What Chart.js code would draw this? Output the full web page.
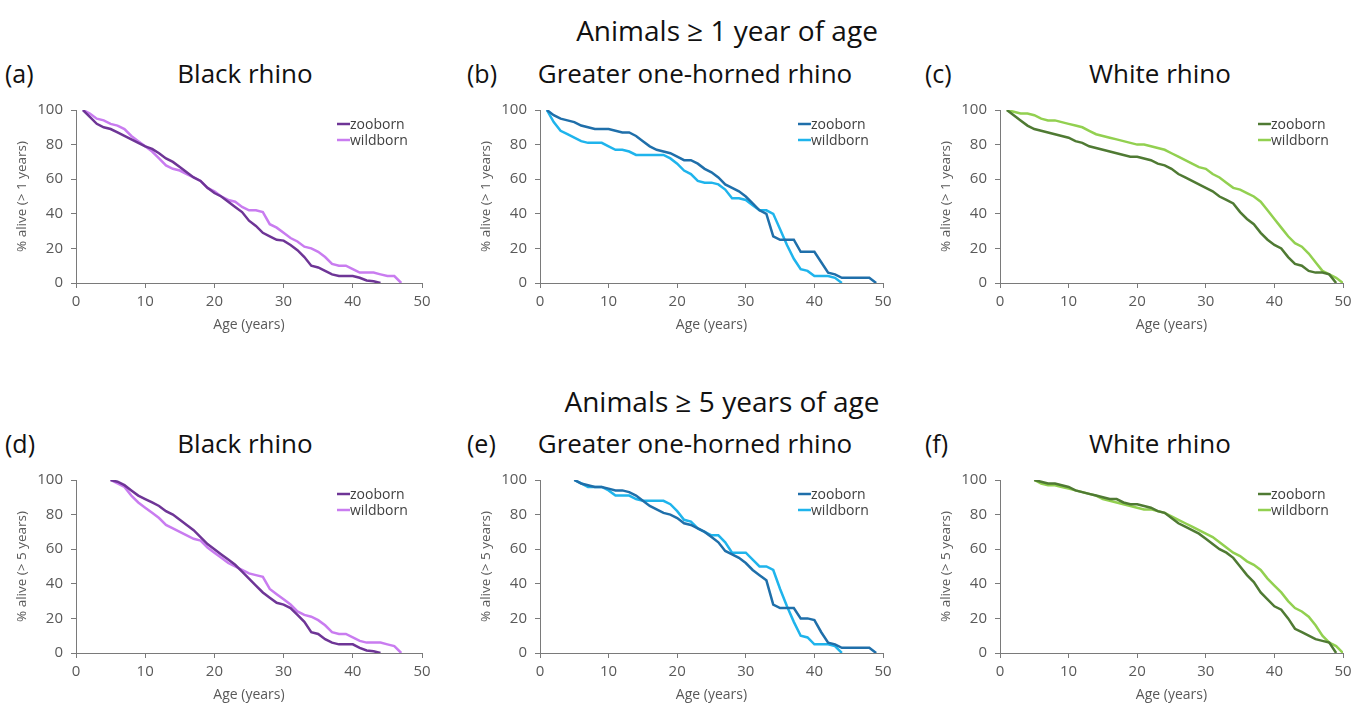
<!DOCTYPE html>
<html>
<head>
<meta charset="utf-8">
<script src="https://cdn.jsdelivr.net/npm/chart.js@4.4.1/dist/chart.umd.min.js"></script>
<style>
  body { margin: 0; background: #fff; font-family: "Open Sans", sans-serif; }
  #page { position: relative; width: 1369px; height: 706px; overflow: hidden; }
  .head { position: absolute; font-size: 28px; color: #111; white-space: nowrap; transform: translate(-50%, -50%); }
  .ptitle { position: absolute; font-size: 26px; color: #111; white-space: nowrap; transform: translate(-50%, -50%); }
  .plabel { position: absolute; font-size: 25px; color: #111; transform: translateY(-50%); }
  canvas { position: absolute; }
</style>
</head>
<body>
<div id="page">
  <div class="head" style="left:727px; top:30px;">Animals ≥ 1 year of age</div>
  <div class="head" style="left:722px; top:401px;">Animals ≥ 5 years of age</div>
</div>
<script>
// age axis (years)
const agesFrom1 = [1,2,3,4,5,6,7,8,9,10,11,12,13,14,15,16,17,18,19,20,21,22,23,24,25,26,27,28,29,30,31,32,33,34,35,36,37,38,39,40,41,42,43,44,45,46,47,48,49,50];
const agesFrom5 = [5,6,7,8,9,10,11,12,13,14,15,16,17,18,19,20,21,22,23,24,25,26,27,28,29,30,31,32,33,34,35,36,37,38,39,40,41,42,43,44,45,46,47,48,49,50];
const xTicks = [0, 10, 20, 30, 40, 50];
const yTicks = [0, 20, 40, 60, 80, 100];

// % alive, animals >= 1 year
const blackZoo1 = [100,96,92,90,89,87,85,83,81,79, 77.5,75,72,70,67,64,61,59,55,52, 50,47,44,41,36,33,29,27,25,24.5, 22,19,15,10,9,7,5,4,4,4, 3,1.5,1,0];
const blackWild1 = [100,98,95,94,92,91,89,85,82,79, 76,72,68,66,65,63,61,59,55,53, 50,48,47,44,42,42,41,34,32,29, 26,24,21,20,18,15,11,10,10,8, 6,6,6,5,4,4,0];
const gohZoo1 = [100,97,95,94,93,91,90,89,89,89, 88,87,87,85,82,79,77,76,75,73, 71,71,69,66,64,61,57,55,53,50, 46,42,40,27,25,25,25,18,18,18, 12,6,5,3,3,3,3,3,0];
const gohWild1 = [100,93,88,86,84,82,81,81,81,79, 77,77,76,74,74,74,74,74,72,69, 65,63,59,58,58,57,54,49,49,48, 45,42,42,40,31,22,14,8,7,4, 4,4,3,0];
const whiteZoo1 = [100,97,94,91,89,88,87,86,85,84, 82,81,79,78,77,76,75,74,73,73, 72,71,69,68,66,63,61,59,57,55, 53,50,48,46,41,37,34,29,25,22, 20,15,11,10,7,6,6,5,0];
const whiteWild1 = [100,99,98,98,97,95,94,94,93,92, 91,90,88,86,85,84,83,82,81,80, 80,79,78,77,75,73,71,69,67,66, 63,61,58,55,54,52,50,47,42,37, 32,27,23,21,17,12,7,5,3,0];

// % alive, animals >= 5 years
const blackZoo5 = [100,99,97,94,91,89,87,85,82,80, 77,74,71,67,63,60,57,54,51,47, 43,39,35,32,29,28,26,22,18,12, 11,8,6,5,5,5,3,1.5,1,0];
const blackWild5 = [100,98,96,91,87,84,81,78,74,72, 70,68,66,65,61,58,55,52,50,48, 46,45,44,37,34,31,28,24,22,21, 19,16,12,11,11,9,7,6,6,6, 5,4,0];
const gohZoo5 = [100,98,97,96,96,95,94,94,93,91, 88,85,83,81,80,78,75,74,72,70, 67,64,59,57,55,52,48,45,42,28, 26,26,26,20,20,19,12,6,5,3, 3,3,3,3,0];
const gohWild5 = [100,98,96,96,96,94,91,91,91,89, 88,88,88,88,86,82,77,76,72,70, 68,68,64,58,58,58,54,50,50,48, 37,27,18,10,9,5,5,5,4,0];
const whiteZoo5 = [100,99,98,98,97,96,94,93,92,91, 90,89,89,87,86,86,85,84,82,81, 78,75,73,71,69,66,63,60,58,55, 50,45,41,35,31,27,25,20,14,12, 10,8,7,6,0];
const whiteWild5 = [100,98,97,97,96,95,94,93,92,91, 89,88,87,86,85,84,83,83,82,81, 79,77,75,73,71,69,67,64,61,58, 56,53,51,48,43,39,35,30,26,24, 21,16,10,6,4,0];

// panel layout
const colLeft = [76, 540, 1000];
const colRight = [422, 883, 1343];
const rowTop = [103, 473];
const rowBottom = [283, 653];

const panels = [
  { row: 0, col: 0, tag: '(a)', title: 'Black rhino', yTitle: '% alive (> 1 years)', ages: agesFrom1, zoo: blackZoo1, wild: blackWild1, colors: ['#6E3596', '#C97CF0'] },
  { row: 0, col: 1, tag: '(b)', title: 'Greater one-horned rhino', yTitle: '% alive (> 1 years)', ages: agesFrom1, zoo: gohZoo1, wild: gohWild1, colors: ['#1F6FAA', '#1FB4EC'] },
  { row: 0, col: 2, tag: '(c)', title: 'White rhino', yTitle: '% alive (> 1 years)', ages: agesFrom1, zoo: whiteZoo1, wild: whiteWild1, colors: ['#4F7A33', '#92D050'] },
  { row: 1, col: 0, tag: '(d)', title: 'Black rhino', yTitle: '% alive (> 5 years)', ages: agesFrom5, zoo: blackZoo5, wild: blackWild5, colors: ['#6E3596', '#C97CF0'] },
  { row: 1, col: 1, tag: '(e)', title: 'Greater one-horned rhino', yTitle: '% alive (> 5 years)', ages: agesFrom5, zoo: gohZoo5, wild: gohWild5, colors: ['#1F6FAA', '#1FB4EC'] },
  { row: 1, col: 2, tag: '(f)', title: 'White rhino', yTitle: '% alive (> 5 years)', ages: agesFrom5, zoo: whiteZoo5, wild: whiteWild5, colors: ['#4F7A33', '#92D050'] }
];
const titleX = [245, 695, 1160];
const tagX = [5, 467, 925];

// legend drawn inside the plot, top right
const sideLegend = {
  id: 'sideLegend',
  afterDraw(chart) {
    const ctx = chart.ctx;
    const area = chart.chartArea;
    chart.data.datasets.forEach((ds, i) => {
      const x = area.right - 85;
      const y = area.top + 14 + i * 16;
      ctx.save();
      ctx.strokeStyle = ds.borderColor;
      ctx.lineWidth = 2.5;
      ctx.beginPath();
      ctx.moveTo(x, y);
      ctx.lineTo(x + 13, y);
      ctx.stroke();
      ctx.fillStyle = '#404040';
      ctx.font = '14px "Open Sans"';
      ctx.textBaseline = 'middle';
      ctx.fillText(ds.label, x + 13, y + 1);
      ctx.restore();
    });
  }
};

function toPoints(ages, values) {
  return values.map((v, i) => ({ x: ages[i], y: v }));
}

function buildPanel(p) {
  const page = document.getElementById('page');

  const tag = document.createElement('div');
  tag.className = 'plabel';
  tag.style.left = tagX[p.col] + 'px';
  tag.style.top = (rowTop[p.row] - 30) + 'px';
  tag.textContent = p.tag;
  page.appendChild(tag);

  const title = document.createElement('div');
  title.className = 'ptitle';
  title.style.left = titleX[p.col] + 'px';
  title.style.top = (rowTop[p.row] - 30) + 'px';
  title.textContent = p.title;
  page.appendChild(title);

  const padTop = 10, padRight = 22, yWidth = 76, xHeight = 50;
  const left = colLeft[p.col] - yWidth;
  const top = rowTop[p.row] - padTop;
  const canvas = document.createElement('canvas');
  canvas.width = colRight[p.col] - left + padRight;
  canvas.height = rowBottom[p.row] - top + xHeight;
  canvas.style.left = left + 'px';
  canvas.style.top = top + 'px';
  page.appendChild(canvas);

  const axisColor = '#7a7a7a';
  const tickFont = { family: 'Open Sans', size: 15 };

  new Chart(canvas.getContext('2d'), {
    type: 'line',
    data: {
      datasets: [
        { label: 'zooborn', data: toPoints(p.ages, p.zoo), borderColor: p.colors[0], borderWidth: 2.5, pointRadius: 0, tension: 0 },
        { label: 'wildborn', data: toPoints(p.ages, p.wild), borderColor: p.colors[1], borderWidth: 2.5, pointRadius: 0, tension: 0 }
      ]
    },
    options: {
      responsive: false,
      animation: false,
      devicePixelRatio: 1,
      layout: { padding: { left: 0, right: padRight, top: padTop, bottom: 0 } },
      plugins: { legend: { display: false }, tooltip: { enabled: false } },
      scales: {
        x: {
          type: 'linear',
          min: 0,
          max: 50,
          afterBuildTicks: s => { s.ticks = xTicks.map(v => ({ value: v })); },
          afterFit: s => { s.height = xHeight; },
          grid: { drawOnChartArea: false, drawTicks: true, tickLength: 5, color: axisColor },
          border: { color: axisColor, width: 1 },
          ticks: { color: '#595959', font: tickFont, padding: 5, maxRotation: 0 },
          title: { display: true, text: 'Age (years)', color: '#595959', font: { family: 'Open Sans', size: 14 }, padding: { top: 1, bottom: 0 } }
        },
        y: {
          type: 'linear',
          min: 0,
          max: 100,
          afterBuildTicks: s => { s.ticks = yTicks.map(v => ({ value: v })); },
          afterFit: s => { s.width = yWidth; },
          grid: { drawOnChartArea: false, drawTicks: true, tickLength: 5, color: axisColor },
          border: { color: axisColor, width: 1 },
          ticks: { color: '#595959', font: tickFont, padding: 8 },
          title: { display: true, text: p.yTitle, color: '#595959', font: { family: 'Open Sans', size: 13.5 }, padding: { top: 14, bottom: 0 } }
        }
      }
    },
    plugins: [sideLegend]
  });
}

panels.forEach(buildPanel);
</script>
</body>
</html>
